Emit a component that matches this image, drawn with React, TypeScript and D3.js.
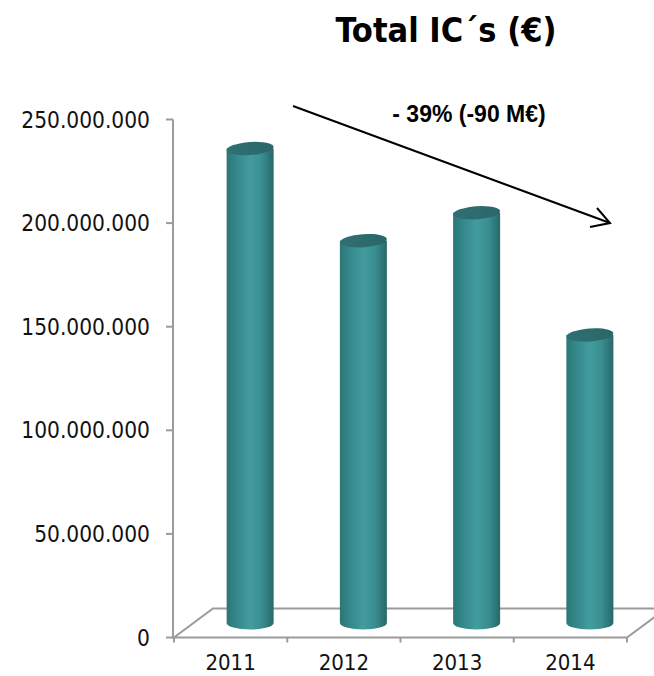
import React from "react";
import * as d3 from "d3";

const categories = ["2011", "2012", "2013", "2014"];
const values = [229000000, 184500000, 198000000, 139000000];
const yTicks = [0, 50000000, 100000000, 150000000, 200000000, 250000000];
const title = "Total IC´s (€)";
const annotation = "- 39% (-90 M€)";

const W = 654, H = 676;
const axisFont = "'DejaVu Sans Condensed', 'DejaVu Sans', sans-serif";

export default function App() {
  const yFront = d3.scaleLinear().domain([0, 250000000]).range([637.5, 119.5]);
  const x = d3.scaleBand<string>().domain(categories).range([174, 627]).paddingInner(0).paddingOuter(0);
  const depthX = 39, depthY = -29;
  const midX = depthX / 2, midY = depthY / 2;
  const barW = 47;
  const rx = barW / 2, ry = 6.5;
  const fmt = (v: number) => d3.format(",")(v).replace(/,/g, ".");
  const gray = "#9b9b9b";
  const y0 = yFront(0);

  const floor = [
    [x.range()[0], y0],
    [x.range()[1], y0],
    [x.range()[1] + depthX, y0 + depthY],
    [x.range()[0] + depthX, y0 + depthY],
  ];

  return (
    <svg width={W} height={H} style={{ position: "absolute", left: 0, top: 0, background: "#fff" }}>
      <defs>
        <linearGradient id="cyl" x1="0" x2="1" y1="0" y2="0">
          <stop offset="0%" stopColor="#2c7677" />
          <stop offset="20%" stopColor="#33878a" />
          <stop offset="50%" stopColor="#429c9d" />
          <stop offset="75%" stopColor="#3a8e90" />
          <stop offset="100%" stopColor="#28676a" />
        </linearGradient>
        <linearGradient id="cap" x1="0" x2="1" y1="0" y2="0">
          <stop offset="0%" stopColor="#2f7072" />
          <stop offset="100%" stopColor="#2b6669" />
        </linearGradient>
      </defs>

      {/* title */}
      <text x={446} y={42} textAnchor="middle" fontFamily={axisFont} fontWeight="bold" fontSize={34} fill="#000">
        {title}
      </text>

      {/* floor */}
      <path d={d3.line()(floor as [number, number][]) + "Z"} fill="#fff" stroke={gray} strokeWidth={2} />

      {/* y axis */}
      <line x1={173} x2={173} y1={yFront(250000000)} y2={y0} stroke={gray} strokeWidth={2} />
      {yTicks.map((t) => (
        <g key={t}>
          <line x1={166} x2={173} y1={yFront(t)} y2={yFront(t)} stroke={gray} strokeWidth={2} />
          <text x={150} y={yFront(t)} dy="0.36em" textAnchor="end" fontFamily={axisFont} fontSize={22.5} fill="#111">
            {fmt(t)}
          </text>
        </g>
      ))}

      {/* category ticks & labels */}
      {[...categories.map((c) => x(c) as number), x.range()[1]].map((px, i) => (
        <line key={i} x1={px} x2={px} y1={y0} y2={y0 + 5} stroke={gray} strokeWidth={2} />
      ))}
      {categories.map((c) => (
        <text key={c} x={(x(c) as number) + x.bandwidth() / 2} y={670} textAnchor="middle" fontFamily={axisFont} fontSize={22} fill="#111">
          {c}
        </text>
      ))}

      {/* cylinders */}
      {categories.map((c, i) => {
        const cx = (x(c) as number) + x.bandwidth() / 2 + midX;
        const yb = y0 + midY;
        const yt = yFront(values[i]) + midY;
        const l = cx - rx, r = cx + rx;
        const body = `M${l},${yt} L${l},${yb} A${rx},${ry} 0 0 0 ${r},${yb} L${r},${yt} Z`;
        return (
          <g key={c}>
            <path d={body} fill="url(#cyl)" />
            <ellipse cx={cx} cy={yt} rx={rx} ry={ry} fill="url(#cap)" transform={`rotate(-4 ${cx} ${yt})`} />
          </g>
        );
      })}

      {/* annotation arrow */}
      <line x1={293} y1={106} x2={610} y2={223} stroke="#000" strokeWidth={2} />
      <path d="M590,227 L610,223 L597,208" fill="none" stroke="#000" strokeWidth={2} />
      <text x={469} y={122} textAnchor="middle" fontFamily="'Liberation Sans', Arial, sans-serif" fontWeight="bold" fontSize={23} fill="#000">
        {annotation}
      </text>
    </svg>
  );
}
